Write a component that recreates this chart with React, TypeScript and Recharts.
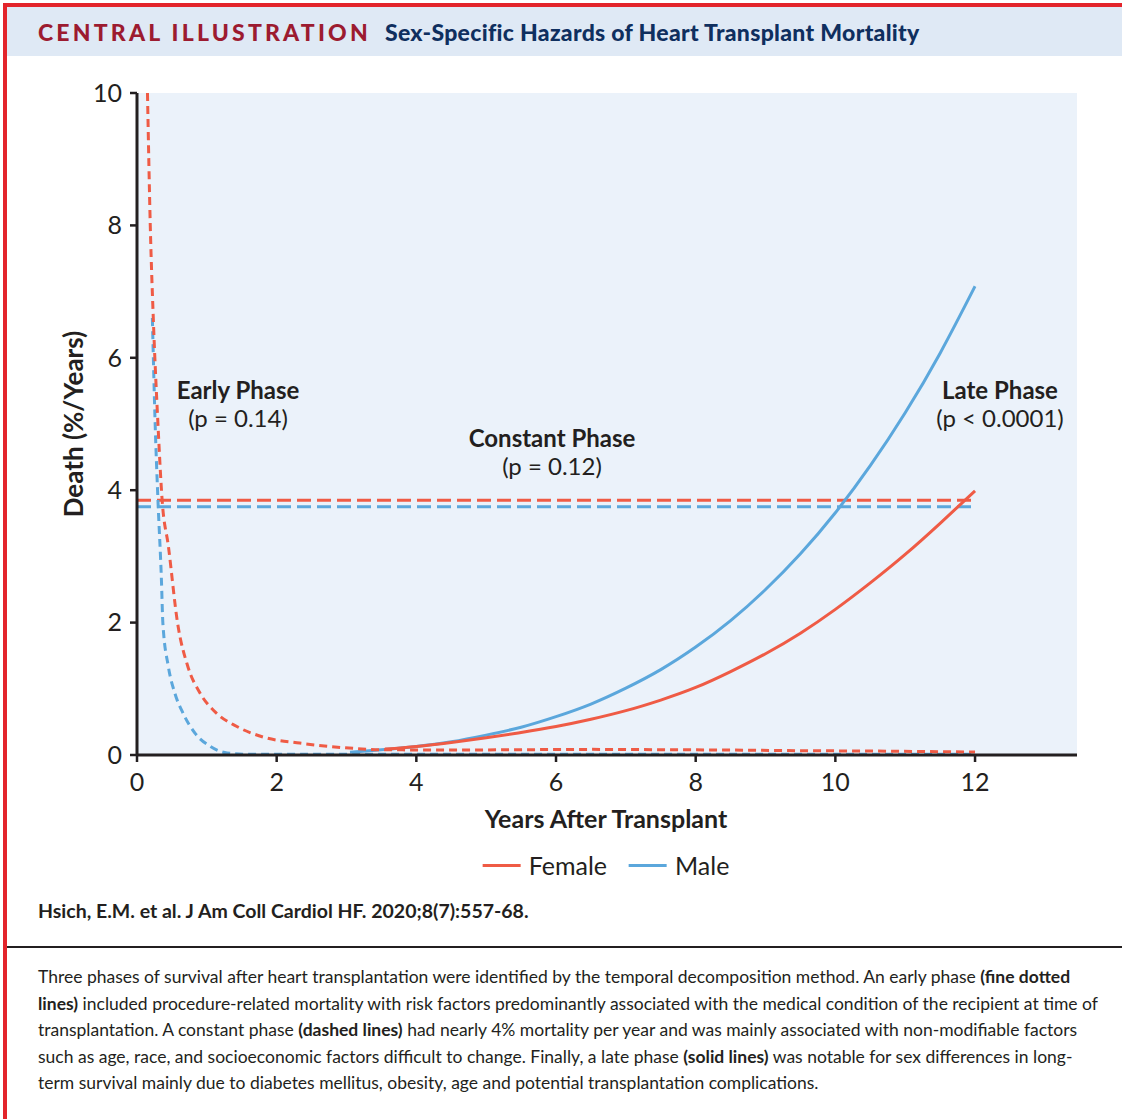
import React from 'react';
import {
  ComposedChart,
  Line,
  XAxis,
  YAxis,
  CartesianGrid,
} from 'recharts';

// x ticks / y ticks
const xTicks = [0, 2, 4, 6, 8, 10, 12];
const yTicks = [0, 2, 4, 6, 8, 10];

// early phase (fine dotted)
const femaleEarlyX = [0.15, 0.19, 0.235, 0.3, 0.36, 0.45, 0.58, 0.73, 0.9, 1.14, 1.43, 1.81, 2.33, 3.1, 3.5, 4.5, 5.5, 6.5, 7.5, 8.5, 9.5, 10.5, 11.5, 12];
const femaleEarlyY = [10, 8, 6.55, 5, 3.85, 3.15, 2.0, 1.33, 0.94, 0.63, 0.43, 0.27, 0.18, 0.1, 0.08, 0.075, 0.08, 0.085, 0.08, 0.075, 0.065, 0.06, 0.05, 0.045];
const maleEarlyX = [0.22, 0.26, 0.3, 0.35, 0.37, 0.45, 0.54, 0.66, 0.83, 1.05, 1.29, 1.6, 2.5, 4, 6, 8, 10, 12];
const maleEarlyY = [6.6, 5, 3.85, 2.64, 2.0, 1.33, 0.94, 0.63, 0.33, 0.13, 0.03, 0.01, 0.01, 0.01, 0.01, 0.01, 0.01, 0.01];

// constant phase (dashed)
const constantX = [0, 12];
const femaleConstantY = [3.85, 3.85];
const maleConstantY = [3.75, 3.75];

// late phase (solid)
const femaleLateX = [3.55, 4, 4.5, 5, 5.5, 6, 6.5, 7, 7.5, 8, 8.5, 9, 9.5, 10, 10.5, 11, 11.5, 12];
const femaleLateY = [0.09, 0.13, 0.19, 0.26, 0.34, 0.43, 0.54, 0.67, 0.83, 1.02, 1.26, 1.53, 1.84, 2.2, 2.6, 3.03, 3.5, 3.99];
const maleLateX = [3.05, 3.5, 4, 4.5, 5, 5.5, 6, 6.5, 7, 7.5, 8, 8.5, 9, 9.5, 10, 10.5, 11, 11.5, 12];
const maleLateY = [0.04, 0.08, 0.13, 0.2, 0.3, 0.42, 0.58, 0.77, 1.01, 1.29, 1.63, 2.03, 2.5, 3.04, 3.66, 4.37, 5.17, 6.07, 7.08];

const toRows = (xs: number[], ys: number[]) => xs.map((x, i) => ({ x, y: ys[i] }));

const RED = '#ef5b45';
const BLUE = '#5ba7dc';
const INK = '#231f20';
const FONT = 'Lato, "Open Sans", sans-serif';

const center: React.CSSProperties = {
  position: 'absolute',
  transform: 'translate(-50%, -50%)',
  textAlign: 'center',
  whiteSpace: 'nowrap',
  color: INK,
  fontFamily: FONT,
  fontSize: 24,
  lineHeight: '28px',
};

const App: React.FC = () => {
  return (
    <div style={{ position: 'absolute', left: 0, top: 0, width: 1122, height: 1119, background: '#fff', fontFamily: FONT, overflow: 'hidden' }}>
      {/* red frame */}
      <div style={{ position: 'absolute', left: 3, top: 3, right: 0, height: 4, background: '#e3242b' }} />
      <div style={{ position: 'absolute', left: 3, top: 3, width: 4, bottom: 0, background: '#e3242b' }} />

      {/* header */}
      <div style={{ position: 'absolute', left: 7, top: 7, right: 0, height: 49, background: '#dfe9f5' }} />
      <div style={{ position: 'absolute', left: 38, top: 32, transform: 'translateY(-50%)', whiteSpace: 'nowrap', fontWeight: 900, fontSize: 23 }}>
        <span style={{ color: '#9c1b30', letterSpacing: 3.2 }}>CENTRAL ILLUSTRATION</span>
        <span style={{ color: '#0f2f5f', marginLeft: 14, letterSpacing: 0.3 }}>Sex-Specific Hazards of Heart Transplant Mortality</span>
      </div>

      <div style={{ position: 'absolute', left: 0, top: 0 }}>
        <ComposedChart width={1122} height={800} margin={{ top: 93, right: 45, left: 77, bottom: 5 }}>
          <CartesianGrid fill="#ebf2fa" stroke="none" horizontal={false} vertical={false} />
          <XAxis
            dataKey="x"
            type="number"
            domain={[0, 13.46]}
            ticks={xTicks}
            allowDataOverflow
            height={40}
            tickSize={7}
            tickMargin={11}
            axisLine={{ stroke: INK, strokeWidth: 3 }}
            tickLine={{ stroke: INK, strokeWidth: 2.5 }}
            tick={{ fill: INK, fontSize: 25, fontFamily: FONT }}
          />
          <YAxis
            dataKey="y"
            type="number"
            domain={[0, 10]}
            ticks={yTicks}
            allowDataOverflow
            width={60}
            tickSize={7}
            tickMargin={8}
            axisLine={{ stroke: INK, strokeWidth: 3 }}
            tickLine={{ stroke: INK, strokeWidth: 2.5 }}
            tick={{ fill: INK, fontSize: 25, fontFamily: FONT }}
          />
          <Line data={toRows(constantX, femaleConstantY)} dataKey="y" type="linear" stroke={RED} strokeWidth={3} strokeDasharray="14 6" dot={false} activeDot={false} isAnimationActive={false} />
          <Line data={toRows(constantX, maleConstantY)} dataKey="y" type="linear" stroke={BLUE} strokeWidth={3} strokeDasharray="14 6" dot={false} activeDot={false} isAnimationActive={false} />
          <Line data={toRows(maleLateX, maleLateY)} dataKey="y" type="natural" stroke={BLUE} strokeWidth={3} dot={false} activeDot={false} isAnimationActive={false} />
          <Line data={toRows(femaleLateX, femaleLateY)} dataKey="y" type="natural" stroke={RED} strokeWidth={3} dot={false} activeDot={false} isAnimationActive={false} />
          <Line data={toRows(maleEarlyX, maleEarlyY)} dataKey="y" type="monotone" stroke={BLUE} strokeWidth={3} strokeDasharray="8 5" dot={false} activeDot={false} isAnimationActive={false} />
          <Line data={toRows(femaleEarlyX, femaleEarlyY)} dataKey="y" type="monotone" stroke={RED} strokeWidth={3} strokeDasharray="8 5" dot={false} activeDot={false} isAnimationActive={false} />
        </ComposedChart>
      </div>

      {/* annotations */}
      <div style={{ ...center, left: 238, top: 404 }}>
        <div style={{ fontWeight: 700 }}>Early Phase</div>
        <div>(p = 0.14)</div>
      </div>
      <div style={{ ...center, left: 552, top: 452 }}>
        <div style={{ fontWeight: 700 }}>Constant Phase</div>
        <div>(p = 0.12)</div>
      </div>
      <div style={{ ...center, left: 1000, top: 404 }}>
        <div style={{ fontWeight: 700 }}>Late Phase</div>
        <div>(p &lt; 0.0001)</div>
      </div>

      {/* axis titles */}
      <div style={{ ...center, left: 73, top: 424, fontWeight: 700, fontSize: 26, transform: 'translate(-50%, -50%) rotate(-90deg)' }}>
        Death (%/Years)
      </div>
      <div style={{ ...center, left: 606, top: 818, fontWeight: 700, fontSize: 25 }}>
        Years After Transplant
      </div>

      {/* legend */}
      <div style={{ ...center, left: 606, top: 865, display: 'flex', alignItems: 'center', fontSize: 25 }}>
        <span style={{ display: 'inline-block', width: 38, height: 3, background: RED, marginRight: 8 }} />
        <span>Female</span>
        <span style={{ display: 'inline-block', width: 38, height: 3, background: BLUE, marginLeft: 22, marginRight: 8 }} />
        <span>Male</span>
      </div>

      {/* citation */}
      <div style={{ position: 'absolute', left: 38, top: 910, transform: 'translateY(-50%)', fontWeight: 700, fontSize: 19.5, color: INK, whiteSpace: 'nowrap' }}>
        Hsich, E.M. et al. J Am Coll Cardiol HF. 2020;8(7):557-68.
      </div>

      <div style={{ position: 'absolute', left: 7, right: 0, top: 946, height: 2, background: INK }} />

      {/* caption */}
      <div style={{ position: 'absolute', left: 38, top: 964, fontSize: 17.5, lineHeight: '26.5px', color: INK, whiteSpace: 'nowrap' }}>
        Three phases of survival after heart transplantation were identified by the temporal decomposition method. An early phase <b>(fine dotted</b><br />
        <b>lines)</b> included procedure-related mortality with risk factors predominantly associated with the medical condition of the recipient at time of<br />
        transplantation. A constant phase <b>(dashed lines)</b> had nearly 4% mortality per year and was mainly associated with non-modifiable factors<br />
        such as age, race, and socioeconomic factors difficult to change. Finally, a late phase <b>(solid lines)</b> was notable for sex differences in long-<br />
        term survival mainly due to diabetes mellitus, obesity, age and potential transplantation complications.
      </div>
    </div>
  );
};

export default App;
